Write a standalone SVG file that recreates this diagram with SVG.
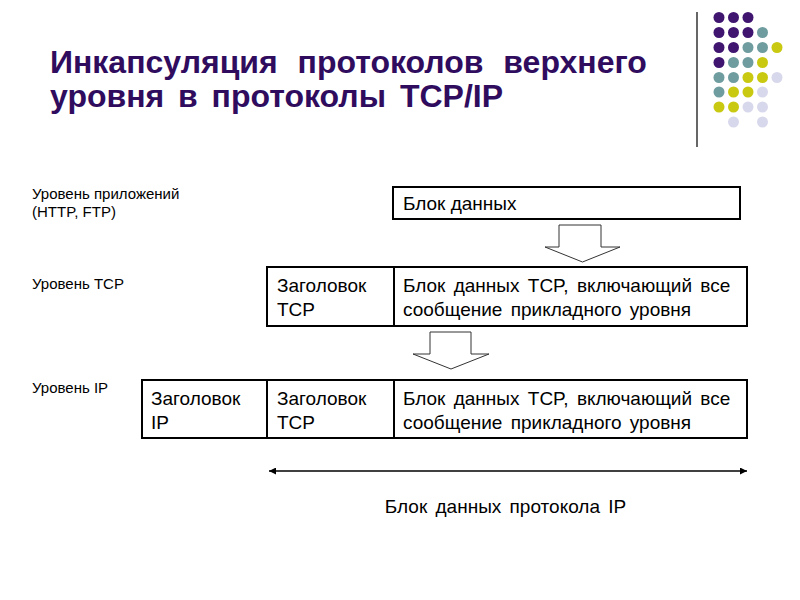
<svg xmlns="http://www.w3.org/2000/svg" width="800" height="600" viewBox="0 0 800 600">
<defs>
<style>
.t{font-family:"Liberation Sans",Arial,sans-serif;fill:#000}
.title{font-family:"Liberation Sans",Arial,sans-serif;font-weight:bold;font-size:32px;fill:#300C5E}
.lbl{font-size:15px}
.bx{font-size:19px}
.box{fill:#fff;stroke:#000;stroke-width:2}
.barrow{fill:#fff;stroke:#333;stroke-width:1}
.p{fill:#3F1570}.g{fill:#6F9D9F}.y{fill:#C9C912}.l{fill:#D8D8EC}
</style>
<marker id="ah" viewBox="0 0 10 10" refX="10" refY="5" markerWidth="7" markerHeight="7" orient="auto-start-reverse" markerUnits="userSpaceOnUse">
<path d="M0,0 L10,5 L0,10 z" fill="#000"/>
</marker>
</defs>
<rect width="800" height="600" fill="#fff"/>
<g id="decor">
<line x1="697" y1="12" x2="697" y2="147" stroke="#000" stroke-width="1.2"/>
<circle class="p" cx="719" cy="17.5" r="5.5"/><circle class="p" cx="733.5" cy="17.5" r="5.5"/><circle class="p" cx="748" cy="17.5" r="5.5"/>
<circle class="p" cx="719" cy="32.5" r="5.5"/><circle class="p" cx="733.5" cy="32.5" r="5.5"/><circle class="p" cx="748" cy="32.5" r="5.5"/><circle class="g" cx="762.5" cy="32.5" r="5.5"/>
<circle class="p" cx="719" cy="47.5" r="5.5"/><circle class="p" cx="733.5" cy="47.5" r="5.5"/><circle class="g" cx="748" cy="47.5" r="5.5"/><circle class="g" cx="762.5" cy="47.5" r="5.5"/><circle class="y" cx="777" cy="47.5" r="5.5"/>
<circle class="p" cx="719" cy="62.5" r="5.5"/><circle class="g" cx="733.5" cy="62.5" r="5.5"/><circle class="g" cx="748" cy="62.5" r="5.5"/><circle class="y" cx="762.5" cy="62.5" r="5.5"/>
<circle class="g" cx="719" cy="77.5" r="5.5"/><circle class="g" cx="733.5" cy="77.5" r="5.5"/><circle class="y" cx="748" cy="77.5" r="5.5"/><circle class="y" cx="762.5" cy="77.5" r="5.5"/><circle class="l" cx="777" cy="77.5" r="5.5"/>
<circle class="g" cx="719" cy="92" r="5.5"/><circle class="y" cx="733.5" cy="92" r="5.5"/><circle class="y" cx="748" cy="92" r="5.5"/><circle class="l" cx="762.5" cy="92" r="5.5"/>
<circle class="y" cx="719" cy="107" r="5.5"/><circle class="y" cx="733.5" cy="107" r="5.5"/><circle class="l" cx="748" cy="107" r="5.5"/><circle class="l" cx="762.5" cy="107" r="5.5"/>
<circle class="l" cx="733.5" cy="122" r="5.5"/><circle class="l" cx="762.5" cy="122" r="5.5"/>
</g>
<g id="title">
<text class="title" x="50" y="73" word-spacing="11">Инкапсуляция протоколов верхнего</text>
<text class="title" x="50" y="107" word-spacing="5">уровня в протоколы TCP/IP</text>
</g>
<g id="levels">
<text class="t lbl" x="32" y="199">Уровень приложений</text>
<text class="t lbl" x="32" y="217">(HTTP, FTP)</text>
<text class="t lbl" x="32" y="289">Уровень TCP</text>
<text class="t lbl" x="32" y="393">Уровень IP</text>
</g>
<g id="app-data">
<rect class="box" x="393" y="187" width="347" height="32"/>
<text class="t bx" x="403" y="210">Блок данных</text>
</g>
<g id="tcp-header">
<rect class="box" x="267" y="267" width="127" height="59"/>
<text class="t bx" x="277" y="292">Заголовок</text>
<text class="t bx" x="277" y="316">TCP</text>
</g>
<g id="tcp-data">
<rect class="box" x="394" y="267" width="353" height="59"/>
<text class="t bx" x="403" y="292" word-spacing="3">Блок данных TCP, включающий все</text>
<text class="t bx" x="403" y="316" word-spacing="3">сообщение прикладного уровня</text>
</g>
<g id="ip-header">
<rect class="box" x="142" y="380" width="125" height="58"/>
<text class="t bx" x="151" y="405">Заголовок</text>
<text class="t bx" x="151" y="429">IP</text>
</g>
<g id="ip-tcp-header">
<rect class="box" x="267" y="380" width="127" height="58"/>
<text class="t bx" x="277" y="405">Заголовок</text>
<text class="t bx" x="277" y="429">TCP</text>
</g>
<g id="ip-tcp-data">
<rect class="box" x="394" y="380" width="353" height="58"/>
<text class="t bx" x="403" y="405" word-spacing="3">Блок данных TCP, включающий все</text>
<text class="t bx" x="403" y="429" word-spacing="3">сообщение прикладного уровня</text>
</g>
<g id="connectors">
<polygon class="barrow" points="559,225 601,225 601,247 620,247 582.5,262 545,247 559,247"/>
<polygon class="barrow" points="430,332 471,332 471,354 489,354 451,369 413,354 430,354"/>
<line x1="269" y1="471" x2="747" y2="471" stroke="#000" stroke-width="1.3" marker-start="url(#ah)" marker-end="url(#ah)"/>
</g>
<g id="ip-label">
<text class="t" x="505.5" y="513" font-size="19" text-anchor="middle" word-spacing="3">Блок данных протокола IP</text>
</g>
</svg>
